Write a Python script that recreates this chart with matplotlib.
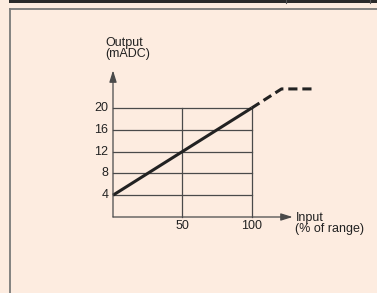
import matplotlib
matplotlib.use("Agg")
import matplotlib.pyplot as plt
from matplotlib.patches import Rectangle
from matplotlib.lines import Line2D

plt.rcParams['font.family'] = ['Liberation Sans', 'DejaVu Sans']

# data
y_ticks = [4, 8, 12, 16, 20]
x_ticks = [50, 100]
solid_x = [0, 100]
solid_y = [4, 20]
dash_x = [100, 121.5, 146]
dash_y = [20, 23.5, 23.5]
y_label = "Output\n(mADC)"
x_label = "Input\n(% of range)"

W, H = 377, 293
fig = plt.figure(figsize=(W / 100, H / 100), dpi=100)
bg = '#FDECE0'
fig.patch.set_facecolor(bg)

def px(x, y):
    return x / W, 1 - y / H

fig.patches.append(Rectangle(px(9, 3), (W - 9) / W, 3 / H, transform=fig.transFigure,
                             facecolor='#2a2a2a', edgecolor='none'))
fig.lines.append(Line2D([9.5 / W, 9.5 / W], [0, 1 - 8.5 / H], transform=fig.transFigure,
                        color='#7a7a7a', lw=1.3))
fig.lines.append(Line2D([9.5 / W, 1], [1 - 8.5 / H, 1 - 8.5 / H], transform=fig.transFigure,
                        color='#7a7a7a', lw=1.3))
for xx in (286, 370):
    fig.lines.append(Line2D([xx / W, xx / W], [1, 1 - 3 / H], transform=fig.transFigure,
                            color='#555555', lw=0.8))

x0, x1 = 113, 251.7
y0, y1 = 217, 108
ax = fig.add_axes([x0 / W, 1 - y0 / H, (x1 - x0) / W, (y0 - y1) / H])
ax.set_xlim(0, 100)
ax.set_ylim(0, 20)
ax.axis('off')

fs = 9
grid_c = '#4a4a4a'
txt_c = '#222222'
for yv in y_ticks:
    ax.plot([0, 100], [yv, yv], color=grid_c, lw=0.9, clip_on=False)
    ax.text(-3.4, yv, str(yv), ha='right', va='center', fontsize=fs, color=txt_c)
for xv in x_ticks:
    ax.plot([xv, xv], [0, 20], color=grid_c, lw=0.9, clip_on=False)
    ax.text(xv, -1.7, str(xv), ha='center', va='center', fontsize=fs, color=txt_c)

ax.annotate('', xy=(0, 26.9), xytext=(0, 0), annotation_clip=False,
            arrowprops=dict(arrowstyle='-|>,head_length=0.7,head_width=0.22',
                            color=grid_c, lw=0.9, shrinkA=0, shrinkB=0))
ax.annotate('', xy=(129.5, 0), xytext=(0, 0), annotation_clip=False,
            arrowprops=dict(arrowstyle='-|>,head_length=0.7,head_width=0.22',
                            color=grid_c, lw=0.9, shrinkA=0, shrinkB=0))

ax.plot(solid_x, solid_y, color=txt_c, lw=2.2, clip_on=False, solid_capstyle='butt')
ax.plot(dash_x, dash_y, color=txt_c, lw=2.2, clip_on=False,
        linestyle=(0, (3, 1.6)), dash_capstyle='butt')

ax.text(-5.5, 33.0, y_label, ha='left', va='top', fontsize=fs, color=txt_c,
        linespacing=0.9)
ax.text(131.5, 0.9, x_label, ha='left', va='top', fontsize=fs, color=txt_c,
        linespacing=0.9)

fig.savefig('out.png', dpi=100, facecolor=bg)
